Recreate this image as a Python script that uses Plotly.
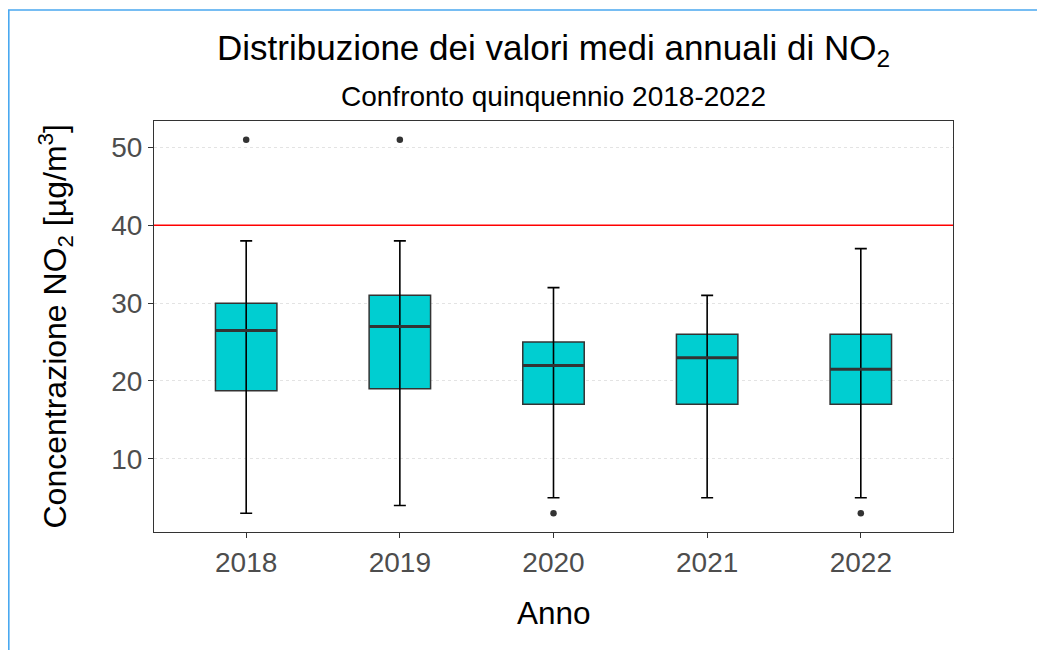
import plotly.graph_objects as go

years = ["2018", "2019", "2020", "2021", "2022"]
lower_whisker = [3, 4, 5, 5, 5]
q1 = [18.75, 19, 17, 17, 17]
median = [26.5, 27, 22, 23, 21.5]
q3 = [30, 31, 25, 26, 26]
upper_whisker = [38, 38, 32, 31, 37]
outlier_year_idx = [0, 1, 2, 4]
outlier_values = [51, 51, 3, 3]
limit_value = 40

idx = list(range(len(years)))
W, H = 1037, 650
L, R, T, B = 154, 84, 121, 118
FONT = "Liberation Sans, Arial, sans-serif"

fig = go.Figure()

fig.add_trace(go.Box(
    x=idx, q1=q1, median=median, q3=q3,
    lowerfence=q1, upperfence=q3,
    width=0.4, whiskerwidth=0,
    fillcolor="#00CED1", line=dict(color="#333333", width=1.5),
    boxpoints=False, showlegend=False, hoverinfo="skip",
))

# whiskers (errorbar through the box)
fig.add_trace(go.Scatter(
    x=idx, y=median, mode="markers",
    marker=dict(size=1, color="rgba(0,0,0,0)"),
    error_y=dict(type="data", symmetric=False,
                 array=[u - m for u, m in zip(upper_whisker, median)],
                 arrayminus=[m - l for m, l in zip(median, lower_whisker)],
                 color="black", thickness=1.6, width=6),
    showlegend=False, hoverinfo="skip",
))

# thick median line
fig.add_trace(go.Scatter(
    x=idx, y=median, mode="markers",
    marker=dict(size=1, color="rgba(0,0,0,0)"),
    error_x=dict(type="data", array=[0.2] * len(idx), color="#333333",
                 thickness=3, width=0),
    showlegend=False, hoverinfo="skip",
))

fig.add_trace(go.Scatter(
    x=outlier_year_idx, y=outlier_values, mode="markers",
    marker=dict(size=6.5, color="#333333"),
    showlegend=False, hoverinfo="skip",
))

fig.add_hline(y=limit_value, line=dict(color="#FF0000", width=1.6), layer="above")

# outer frame (partially visible in the reference)
pw, ph = W - L - R, H - T - B
fig.add_shape(type="rect", xref="paper", yref="paper",
              x0=(8.8 - L) / pw, x1=(W + 20 - L) / pw,
              y0=-(H + 20 - (H - B)) / ph, y1=((H - B) - 10) / ph,
              line=dict(color="#4AA8F0", width=1.6), fillcolor="rgba(0,0,0,0)",
              layer="above")

fig.update_xaxes(
    range=[-0.6, 4.6], tickvals=idx, ticktext=years,
    showgrid=False, zeroline=False,
    showline=True, mirror=True, linecolor="#333333", linewidth=1.1,
    ticks="outside", ticklen=5, tickcolor="#333333", tickwidth=1.1,
    tickfont=dict(family=FONT, size=28, color="#4D4D4D"),
)
fig.update_yaxes(
    range=[0.6, 53.4], tickvals=[10, 20, 30, 40, 50],
    showgrid=True, gridcolor="#E3E3E3", griddash="dot", gridwidth=1,
    zeroline=False,
    showline=True, mirror=True, linecolor="#333333", linewidth=1.1,
    ticks="outside", ticklen=5, tickcolor="#333333", tickwidth=1.1,
    tickfont=dict(family=FONT, size=28, color="#4D4D4D"),
)

fig.add_annotation(text="Distribuzione dei valori medi annuali di NO<sub>2</sub>",
                   xref="paper", yref="paper", x=0.5, y=1 + (T - 50.5) / ph,
                   xanchor="center", yanchor="middle", showarrow=False,
                   font=dict(family=FONT, size=35, color="black"))
fig.add_annotation(text="Confronto quinquennio 2018-2022",
                   xref="paper", yref="paper", x=0.5, y=1 + (T - 96.5) / ph,
                   xanchor="center", yanchor="middle", showarrow=False,
                   font=dict(family=FONT, size=28, color="black"))
fig.add_annotation(text="Anno",
                   xref="paper", yref="paper", x=0.5, y=-(613 - (H - B)) / ph,
                   xanchor="center", yanchor="middle", showarrow=False,
                   font=dict(family=FONT, size=31.5, color="black"))
fig.add_annotation(text="Concentrazione NO<sub>2</sub> [µg/m<sup>3</sup>]",
                   xref="paper", yref="paper", x=(55 - L) / pw, y=0.5,
                   xanchor="center", yanchor="middle", textangle=-90, showarrow=False,
                   font=dict(family=FONT, size=32, color="black"))

fig.update_layout(
    width=W, height=H,
    margin=dict(l=L, r=R, t=T, b=B),
    plot_bgcolor="white", paper_bgcolor="white",
    showlegend=False,
)

fig.write_html("out.html", config={"displayModeBar": False},
               post_script="document.body.style.margin='0';document.body.style.overflow='hidden';")
